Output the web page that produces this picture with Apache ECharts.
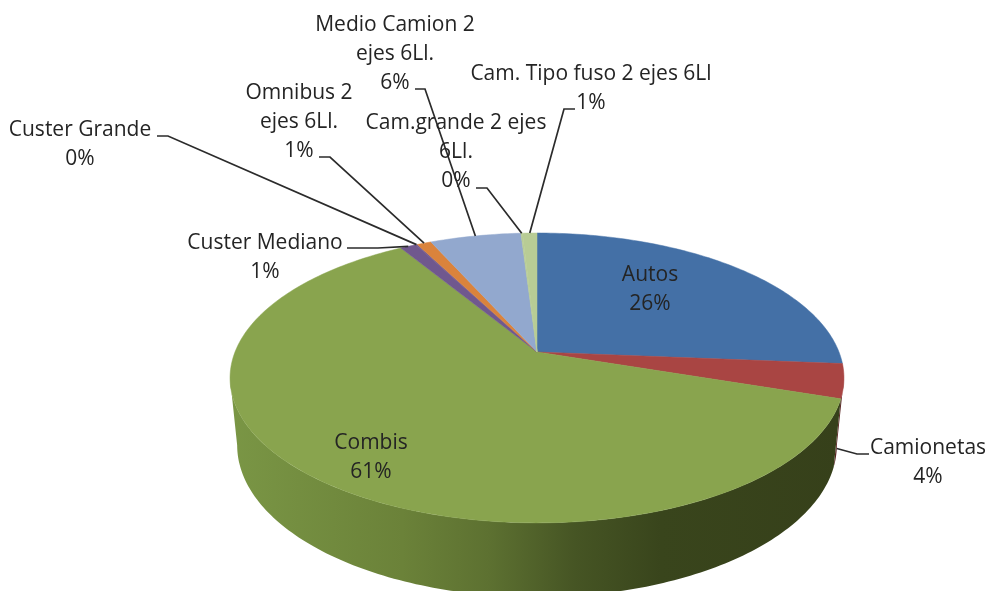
<!DOCTYPE html>
<html>
<head>
<meta charset="utf-8">
<style>html,body{margin:0;padding:0;background:#fff}#c{width:988px;height:591px}</style>
<script src="https://cdn.jsdelivr.net/npm/echarts@6/dist/echarts.min.js"></script>
</head>
<body>
<div id="c"></div>
<script>
// --- data
var categories = ['Autos','Camionetas','Combis','Custer Mediano','Custer Grande','Omnibus 2 ejes 6Ll.','Medio Camion 2 ejes 6Ll.','Cam.grande 2 ejes 6Ll.','Cam. Tipo fuso 2 ejes 6Ll'];
var values = [26.3, 3.8, 61.2, 1.0, 0.1, 0.9, 5.7, 0.1, 0.9];

// --- styles and layout
var labelLines = [
  ['Autos'],['Camionetas'],['Combis'],['Custer Mediano'],['Custer Grande'],
  ['Omnibus 2','ejes 6Ll.'],['Medio Camion 2','ejes 6Ll.'],['Cam.grande 2 ejes','6Ll.'],['Cam. Tipo fuso 2 ejes 6Ll']
];
var topColors  = ['#4470A6','#A94543','#89A44E','#70588E','#70588E','#DA833C','#92A8CE','#B8CC95','#B8CC95'];
var sideColors = ['#2A4566','#5A2523',null,'#443556','#443556','#854F24','#5A6780','#6F7C5A','#6F7C5A'];
var labelPos = [[650,289.5],[928,462.5],[371,457.5],[265,257.5],[80,144.5],[299,122],[395,54],[456,152],[591,88.5]];
var elbows = [null,[[869,454],[857,454]],null,[[347,248],[378,248]],[[157,136],[168,136]],[[319,157],[330,157]],[[415,89],[425,89]],[[476,188],[487,188]],[[575,109],[564,109]]];
var cx = 537, b = 0.179;
var topRing = {c:302, a:140.3, y0:352};
var botRing = {c:295, a:147, y0:418};
var FONT = '"Open Sans"';
var FS = 21;
var TXT = '#242424';

var total = values.reduce(function(s,v){return s+v;},0);
var cum = []; (function(){var s=0;values.forEach(function(v){cum.push(s);s+=v;});})();
// the front of the wall runs between the two widest points of the ring
var frontStart = Math.acos(-b)/(2*Math.PI), frontEnd = 1-frontStart;
function pt(r,frac){
  var t = frac*2*Math.PI, x = Math.sin(t), y = -Math.cos(t), k = 1-b*y;
  return [cx + r.c*x/k, r.y0 + r.a*y/k];
}
function arc(r,f0,f1){
  var n = Math.max(2,Math.ceil((f1-f0)*360)), out=[];
  for(var i=0;i<=n;i++) out.push(pt(r,f0+(f1-f0)*i/n));
  return out;
}
var greenSide = {type:'linear',x:230,y:0,x2:845,y2:0,global:true,colorStops:[
  {offset:0,color:'#7A9645'},{offset:.28,color:'#6B8239'},{offset:.42,color:'#5D7131'},
  {offset:.56,color:'#465524'},{offset:.7,color:'#39451C'},{offset:1,color:'#36401A'}]};

function sideItem(params,api){
  var i = params.dataIndex;
  var f0 = Math.max(cum[i]/total,frontStart), f1 = Math.min((cum[i]+api.value(0))/total,frontEnd);
  if(f1<=f0) return {type:'group',children:[]};
  var pts = arc(topRing,f0,f1).concat(arc(botRing,f0,f1).reverse());
  return {type:'polygon',shape:{points:pts},style:{fill:i===2?greenSide:sideColors[i],stroke:null}};
}
function topItem(params,api){
  var i = params.dataIndex, f0 = cum[i]/total, f1 = (cum[i]+api.value(0))/total;
  var pts = [[cx,topRing.y0]].concat(arc(topRing,f0,f1));
  return {type:'polygon',shape:{points:pts},style:{fill:topColors[i],stroke:topColors[i],lineWidth:.5}};
}
function labelItem(params,api){
  var i = params.dataIndex, v = api.value(0);
  var pct = Math.round(v/total*100)+'%';
  var children = [];
  if(elbows[i]){
    var mid = (cum[i]+v/2)/total;
    var t = mid*2*Math.PI;
    var end = pt(-Math.cos(t)>0?botRing:topRing,mid);
    children.push({type:'polyline',shape:{points:elbows[i].concat([end])},
      style:{fill:null,stroke:'#2b2b2b',lineWidth:1.7}});
  }
  children.push({type:'text',x:labelPos[i][0],y:labelPos[i][1],style:{
    text:labelLines[i].concat([pct]).join('\n'),
    fill:TXT,font:FS+'px '+FONT,align:'center',verticalAlign:'middle',lineHeight:29}});
  return {type:'group',children:children};
}
var seriesData = categories.map(function(n,i){return {name:n,value:values[i]};});
var chart = echarts.init(document.getElementById('c'),null,{renderer:'canvas'});
chart.setOption({
  animation:false,
  backgroundColor:'#fff',
  series:[
    {type:'custom',coordinateSystem:'none',renderItem:sideItem,data:seriesData,silent:true,z:1},
    {type:'custom',coordinateSystem:'none',renderItem:topItem,data:seriesData,silent:true,z:2},
    {type:'custom',coordinateSystem:'none',renderItem:labelItem,data:seriesData,silent:true,z:3}
  ]
});
</script>
</body>
</html>
